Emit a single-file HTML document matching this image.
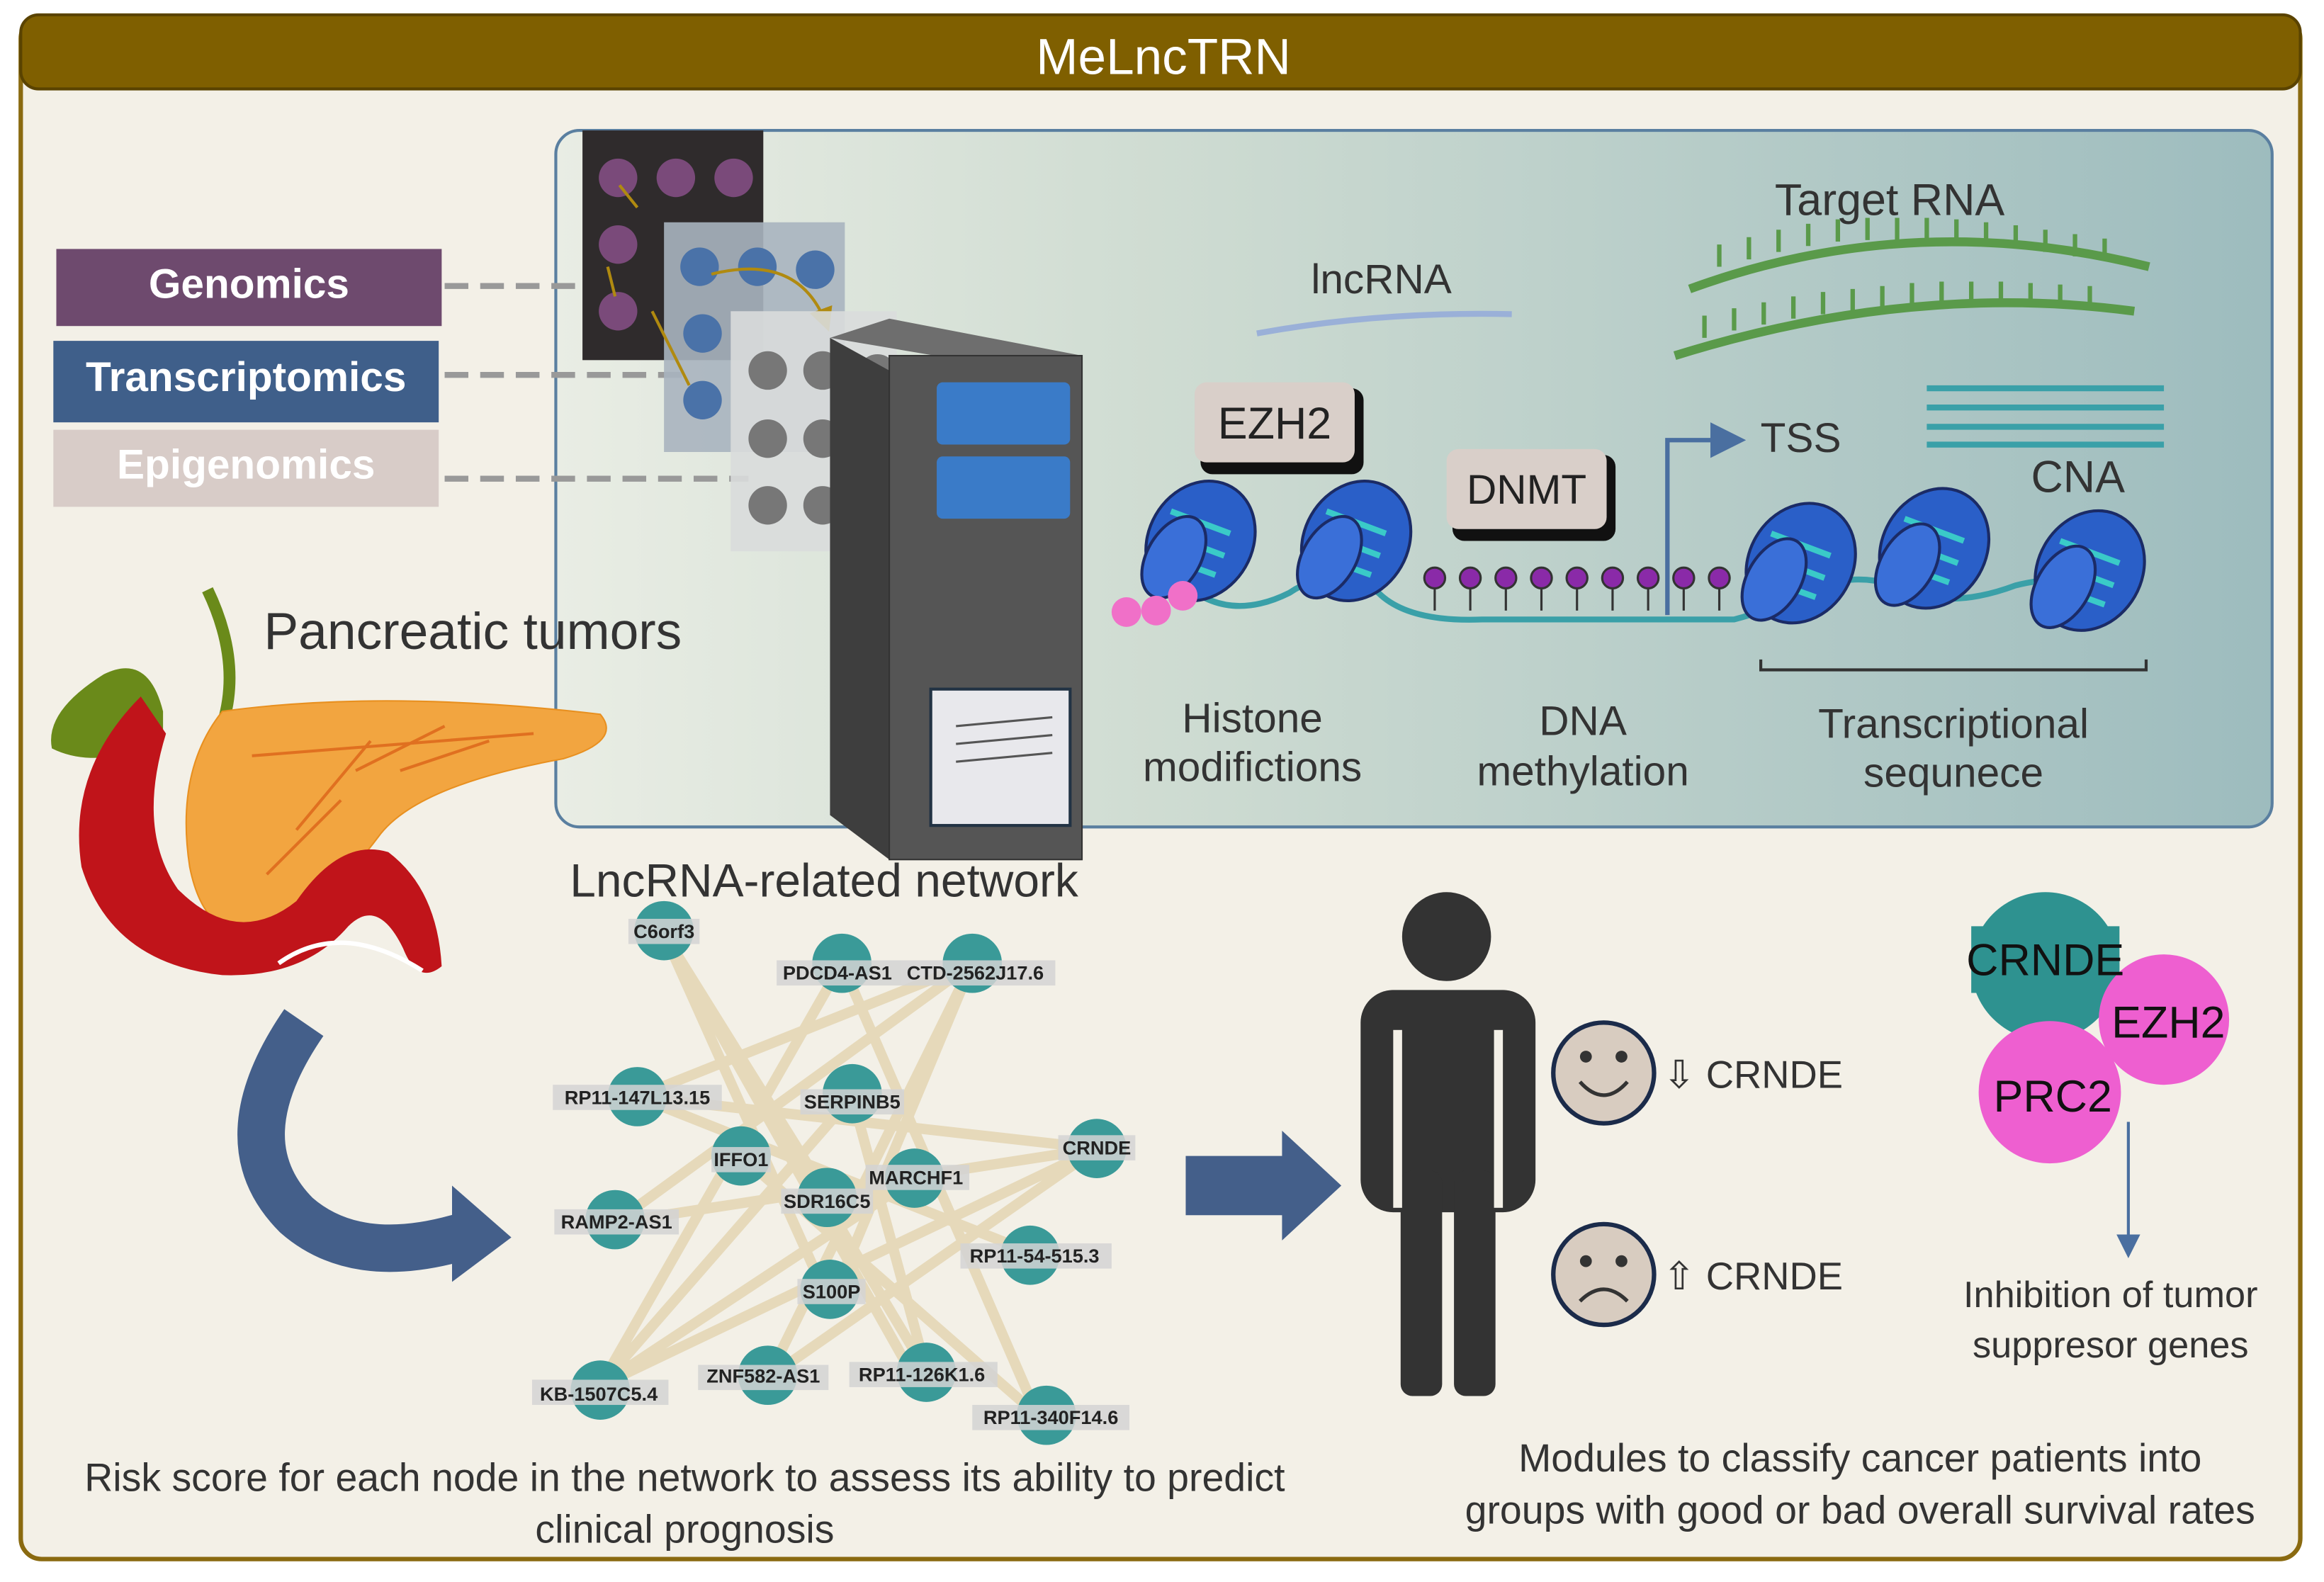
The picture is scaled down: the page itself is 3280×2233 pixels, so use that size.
<!DOCTYPE html>
<html><head><meta charset="utf-8"><style>
html,body{margin:0;padding:0;background:#fff;width:3280px;height:2233px;overflow:hidden}
svg{display:block}
text{font-family:"Liberation Sans",sans-serif}
</style></head><body>
<svg width="3280" height="2233" viewBox="0 0 1568 1067.5" preserveAspectRatio="none" xmlns="http://www.w3.org/2000/svg">
<defs>
<linearGradient id="tg" x1="0" x2="1" y1="0" y2="0">
<stop offset="0" stop-color="#e9ede4"/><stop offset="0.35" stop-color="#cfdcd2"/><stop offset="1" stop-color="#9dbcbe"/></linearGradient>
<marker id="ah" markerWidth="8" markerHeight="8" refX="6" refY="4" orient="auto"><path d="M0,0L8,4L0,8z" fill="#4a6fa0"/></marker>
<marker id="ah2" markerWidth="8" markerHeight="8" refX="6" refY="4" orient="auto"><path d="M0,0L8,4L0,8z" fill="#b08a10"/></marker>
</defs>
<rect x="0" y="0" width="1568" height="1068" fill="#fff"/>
<rect x="14" y="12" width="1538" height="1040" rx="14" fill="#f3f0e7" stroke="#8a6a10" stroke-width="3"/>
<rect x="14" y="10" width="1538" height="50" rx="12" fill="#7f5f00" stroke="#5a4300" stroke-width="2"/>
<text x="785" y="50" font-size="34" fill="#fff" text-anchor="middle">MeLncTRN</text>

<rect x="375" y="88" width="1158" height="470" rx="16" fill="url(#tg)" stroke="#5a7fa0" stroke-width="2"/>

<rect x="38" y="168" width="260" height="52" fill="#6e4a6e"/>
<text x="168" y="201" font-size="28" font-weight="bold" fill="#fff" text-anchor="middle">Genomics</text>
<rect x="36" y="230" width="260" height="55" fill="#3f5f8a"/>
<text x="166" y="264" font-size="28" font-weight="bold" fill="#fff" text-anchor="middle">Transcriptomics</text>
<rect x="36" y="290" width="260" height="52" fill="#d8ccc8"/>
<text x="166" y="323" font-size="28" font-weight="bold" fill="#fff" text-anchor="middle">Epigenomics</text>
<g stroke="#999" stroke-width="4" stroke-dasharray="16,8">
<line x1="300" y1="193" x2="410" y2="193"/><line x1="300" y1="253" x2="460" y2="253"/><line x1="300" y1="323" x2="505" y2="323"/></g>

<rect x="393" y="88" width="122" height="155" fill="#2f2b2c"/>
<g fill="#7a4a7a"><circle cx="417" cy="120" r="13"/><circle cx="456" cy="120" r="13"/><circle cx="495" cy="120" r="13"/><circle cx="417" cy="165" r="13"/><circle cx="417" cy="210" r="13"/></g>
<rect x="448" y="150" width="122" height="155" fill="#a9b4bf" opacity="0.9"/>
<g fill="#4a72a8"><circle cx="472" cy="180" r="13"/><circle cx="511" cy="180" r="13"/><circle cx="550" cy="182" r="13"/><circle cx="474" cy="225" r="13"/><circle cx="474" cy="270" r="13"/></g>
<path d="M430,140 L418,125 M410,180 L415,200 M440,210 L465,260 M480,185 Q540,170 558,220" stroke="#b08a10" stroke-width="2" fill="none" marker-end="url(#ah2)"/>
<rect x="493" y="210" width="112" height="162" fill="#d9dcdc" opacity="0.9"/>
<g fill="#777"><circle cx="518" cy="250" r="13"/><circle cx="555" cy="250" r="13"/><circle cx="592" cy="252" r="13"/><circle cx="518" cy="296" r="13"/><circle cx="555" cy="296" r="13"/><circle cx="518" cy="341" r="13"/><circle cx="555" cy="341" r="13"/><circle cx="594" cy="341" r="13"/></g>

<polygon points="560,228 600,215 730,240 690,250" fill="#6e6e6e"/>
<polygon points="560,228 600,250 600,580 560,550" fill="#3e3e3e"/>
<rect x="600" y="240" width="130" height="340" fill="#555" stroke="#333"/>
<rect x="632" y="258" width="90" height="42" rx="4" fill="#3a7bc8"/>
<rect x="632" y="308" width="90" height="42" rx="4" fill="#3a7bc8"/>
<rect x="628" y="465" width="94" height="92" fill="#e8e8ec" stroke="#234" stroke-width="2"/>
<g stroke="#555" stroke-width="1.5"><line x1="645" y1="490" x2="710" y2="484"/><line x1="645" y1="502" x2="710" y2="496"/><line x1="645" y1="514" x2="710" y2="508"/></g>

<text x="1275" y="145" font-size="30" fill="#333" text-anchor="middle">Target RNA</text>
<text x="932" y="198" font-size="28" fill="#333" text-anchor="middle">lncRNA</text>
<path d="M848,225 Q930,210 1020,212" stroke="#9ab0d8" stroke-width="4" fill="none"/>
<path d="M1140,195 Q1290,140 1450,180" stroke="#5a9a4a" stroke-width="6" fill="none"/>
<path d="M1130,240 Q1290,190 1440,210" stroke="#5a9a4a" stroke-width="6" fill="none"/>
<g stroke="#5a9a4a" stroke-width="3">
<path d="M1160,180v-15M1180,175v-15M1200,170v-15M1220,166v-15M1240,163v-15M1260,162v-15M1280,162v-15M1300,162v-15M1320,163v-15M1340,165v-15M1360,167v-15M1380,170v-15M1400,173v-15M1420,176v-15"/>
<path d="M1150,228v-15M1170,223v-15M1190,219v-15M1210,215v-15M1230,212v-15M1250,210v-15M1270,208v-15M1290,206v-15M1310,205v-15M1330,205v-15M1350,205v-15M1370,206v-15M1390,207v-15M1410,208v-15"/></g>
<g stroke="#3aa0a8" stroke-width="4"><line x1="1300" y1="262" x2="1460" y2="262"/><line x1="1300" y1="275" x2="1460" y2="275"/><line x1="1300" y1="288" x2="1460" y2="288"/><line x1="1300" y1="300" x2="1460" y2="300"/></g>
<text x="1402" y="332" font-size="30" fill="#333" text-anchor="middle">CNA</text>
<text x="1215" y="305" font-size="28" fill="#333" text-anchor="middle">TSS</text>
<path d="M1125,415 V297 H1172" stroke="#4a6fa0" stroke-width="3" fill="none" marker-end="url(#ah)"/>
<rect x="810" y="262" width="110" height="58" rx="8" fill="#111"/>
<rect x="806" y="258" width="108" height="54" rx="8" fill="#d9cfc9"/>
<text x="860" y="296" font-size="30" fill="#222" text-anchor="middle">EZH2</text>
<rect x="980" y="307" width="110" height="58" rx="8" fill="#111"/>
<rect x="976" y="303" width="108" height="54" rx="8" fill="#d9cfc9"/>
<text x="1030" y="340" font-size="28" fill="#222" text-anchor="middle">DNMT</text>
<path d="M800,395 Q830,420 870,400 Q900,380 930,400 Q950,420 1000,418 L1170,418 Q1200,410 1230,395 Q1260,385 1290,400 Q1320,410 1360,395 Q1400,385 1430,400" stroke="#3aa0a8" stroke-width="4" fill="none"/>
<g fill="#8a2aa8" stroke="#333" stroke-width="1.5">
<g id="pin"><line x1="968" y1="394" x2="968" y2="412"/><circle cx="968" cy="390" r="7"/></g>
<use href="#pin" x="24"/><use href="#pin" x="48"/><use href="#pin" x="72"/><use href="#pin" x="96"/><use href="#pin" x="120"/><use href="#pin" x="144"/><use href="#pin" x="168"/><use href="#pin" x="192"/></g>
<g stroke="#1b2b66" stroke-width="2">
<g id="nuc"><ellipse cx="810" cy="365" rx="35" ry="42" transform="rotate(30 810 365)" fill="#2a5fc8"/>
<path d="M790,345 L830,360 M786,360 L826,375 M784,375 L820,388" stroke="#3acac8" stroke-width="4"/>
<ellipse cx="792" cy="376" rx="18" ry="30" transform="rotate(30 792 376)" fill="#3a6fd8"/></g>
<use href="#nuc" x="105"/><use href="#nuc" x="405" y="15"/><use href="#nuc" x="495" y="5"/><use href="#nuc" x="600" y="20"/></g>
<g fill="#f070c8"><circle cx="760" cy="413" r="10"/><circle cx="780" cy="412" r="10"/><circle cx="798" cy="402" r="10"/></g>
<path d="M1188,445 V452 H1448 V445" stroke="#333" stroke-width="2" fill="none"/>
<g font-size="28" fill="#333" text-anchor="middle">
<text x="845" y="494">Histone</text><text x="845" y="527">modifictions</text>
<text x="1068" y="496">DNA</text><text x="1068" y="530">methylation</text>
<text x="1318" y="498">Transcriptional</text><text x="1318" y="531">sequnece</text></g>

<text x="178" y="438" font-size="35" fill="#333">Pancreatic tumors</text>
<path d="M140,398 Q165,450 148,495" stroke="#6a8a1a" stroke-width="8" fill="none"/>
<path d="M110,480 Q100,440 70,455 Q30,480 35,505 Q65,520 110,500z" fill="#6a8a1a"/>
<path d="M150,480 Q260,465 405,482 Q420,500 380,512 Q280,530 255,565 Q225,605 190,625 Q140,645 128,585 Q118,520 150,480z" fill="#f2a540" stroke="#e89020"/>
<g stroke="#e07020" stroke-width="2" fill="none"><path d="M170,510 L360,495 M200,560 L250,500 M240,520 L300,490 M180,590 L230,540 M270,520 L330,500"/></g>
<path d="M95,470 Q45,520 55,585 Q75,650 150,658 Q205,660 235,625 Q255,605 272,640 Q282,665 298,652 Q295,600 262,575 Q230,565 200,608 Q160,640 120,600 Q92,560 112,495z" fill="#c0141a"/>
<path d="M188,650 Q230,620 285,655" stroke="#fff" stroke-width="3" fill="none"/>
<path d="M205,690 Q150,770 200,820 Q240,855 310,835" stroke="#445f8a" stroke-width="32" fill="none"/>
<polygon points="305,800 345,835 305,865" fill="#445f8a"/>

<text x="556" y="605" font-size="31.5" fill="#333" text-anchor="middle">LncRNA-related network</text>
<g stroke="#e3d4b0" stroke-width="7" opacity="0.8">
<path d="M448,630L560,880 M448,630L617,930 M568,650L405,935 M568,650L700,955 M656,650L518,930 M656,650L430,740 M430,740L740,775 M430,740L695,845 M415,825L656,650 M415,825L740,775 M575,740L405,935 M575,740L625,925 M500,780L700,955 M560,810L448,630 M617,795L405,935 M740,775L518,930 M695,845L430,740 M560,880L656,650 M625,925L448,630 M405,935L740,775"/></g>
<g fill="#3a9a98">
<circle cx="448" cy="628" r="20"/><circle cx="568" cy="650" r="20"/><circle cx="656" cy="650" r="20"/><circle cx="430" cy="740" r="20"/><circle cx="575" cy="738" r="20"/><circle cx="500" cy="780" r="20"/><circle cx="740" cy="775" r="20"/><circle cx="617" cy="795" r="20"/><circle cx="558" cy="808" r="20"/><circle cx="415" cy="823" r="20"/><circle cx="695" cy="847" r="20"/><circle cx="560" cy="870" r="20"/><circle cx="405" cy="938" r="20"/><circle cx="518" cy="928" r="20"/><circle cx="625" cy="926" r="20"/><circle cx="706" cy="955" r="20"/></g>
<g fill="#d4d4d4" opacity="0.85">
<rect x="424" y="620" width="48" height="17"/><rect x="524" y="648" width="82" height="17"/><rect x="604" y="648" width="108" height="17"/>
<rect x="373" y="732" width="114" height="17"/><rect x="540" y="735" width="70" height="17"/><rect x="480" y="774" width="40" height="17"/>
<rect x="714" y="766" width="52" height="17"/><rect x="584" y="786" width="70" height="17"/><rect x="527" y="802" width="62" height="17"/>
<rect x="374" y="816" width="84" height="17"/><rect x="648" y="839" width="102" height="17"/><rect x="538" y="863" width="46" height="17"/>
<rect x="359" y="931" width="92" height="17"/><rect x="471" y="921" width="88" height="17"/><rect x="573" y="919" width="100" height="17"/><rect x="656" y="948" width="106" height="17"/></g>
<g font-size="13" font-weight="bold" fill="#222" text-anchor="middle">
<text x="448" y="633">C6orf3</text><text x="565" y="661">PDCD4-AS1</text><text x="658" y="661">CTD-2562J17.6</text>
<text x="430" y="745">RP11-147L13.15</text><text x="575" y="748">SERPINB5</text><text x="500" y="787">IFFO1</text>
<text x="740" y="779">CRNDE</text><text x="618" y="799">MARCHF1</text><text x="558" y="815">SDR16C5</text>
<text x="416" y="829">RAMP2-AS1</text><text x="698" y="852">RP11-54-515.3</text><text x="561" y="876">S100P</text>
<text x="404" y="945">KB-1507C5.4</text><text x="515" y="933">ZNF582-AS1</text><text x="622" y="932">RP11-126K1.6</text><text x="709" y="961">RP11-340F14.6</text></g>
<text x="462" y="1006" font-size="26.5" fill="#333" text-anchor="middle">Risk score for each node in the network to assess its ability to predict</text>
<text x="462" y="1041" font-size="26.5" fill="#333" text-anchor="middle">clinical prognosis</text>

<polygon points="800,780 865,780 865,763 905,800 865,837 865,820 800,820" fill="#445f8a"/>
<g fill="#333"><circle cx="976" cy="632" r="30"/>
<rect x="918" y="668" width="118" height="150" rx="22"/>
<rect x="945" y="790" width="28" height="152" rx="8"/><rect x="981" y="790" width="28" height="152" rx="8"/></g>
<rect x="940" y="695" width="6" height="120" fill="#f3f0e7"/><rect x="1008" y="695" width="6" height="120" fill="#f3f0e7"/>
<g stroke="#1b2b4a" stroke-width="3" fill="#d8ccc0">
<circle cx="1082" cy="724" r="34"/><circle cx="1082" cy="860" r="34"/></g>
<g fill="#333"><circle cx="1070" cy="713" r="4"/><circle cx="1094" cy="713" r="4"/><circle cx="1070" cy="851" r="4"/><circle cx="1094" cy="851" r="4"/></g>
<path d="M1066,730 Q1082,748 1098,730" stroke="#333" stroke-width="2.5" fill="none"/>
<path d="M1066,878 Q1082,862 1098,878" stroke="#333" stroke-width="2.5" fill="none"/>
<text x="1122" y="734" font-size="26" fill="#333">⇩ CRNDE</text>
<text x="1122" y="870" font-size="26" fill="#333">⇧ CRNDE</text>
<text x="1255" y="993" font-size="26.5" fill="#333" text-anchor="middle">Modules to classify cancer patients  into</text>
<text x="1255" y="1028" font-size="26.5" fill="#333" text-anchor="middle">groups with good or bad overall survival rates</text>

<circle cx="1380" cy="652" r="50" fill="#2e9290"/>
<rect x="1330" y="625" width="100" height="45" fill="#2e9290"/>
<circle cx="1460" cy="688" r="44" fill="#ee5fd0"/>
<circle cx="1383" cy="737" r="48" fill="#ee5fd0"/>
<text x="1380" y="658" font-size="30" fill="#111" text-anchor="middle">CRNDE</text>
<text x="1463" y="700" font-size="30" fill="#111" text-anchor="middle">EZH2</text>
<text x="1385" y="750" font-size="30" fill="#111" text-anchor="middle">PRC2</text>
<line x1="1436" y1="757" x2="1436" y2="845" stroke="#4a6fa0" stroke-width="2" marker-end="url(#ah)"/>
<text x="1424" y="882" font-size="25" fill="#333" text-anchor="middle">Inhibition of tumor</text>
<text x="1424" y="916" font-size="25" fill="#333" text-anchor="middle">suppresor genes</text>
</svg>
</body></html>
